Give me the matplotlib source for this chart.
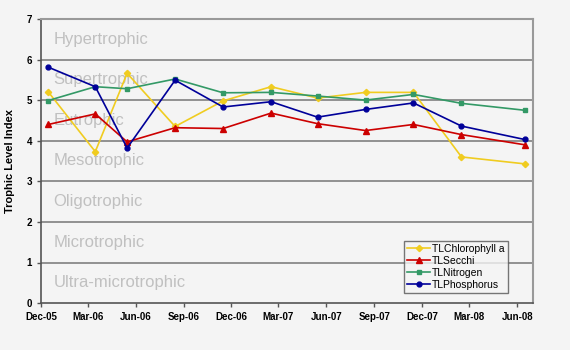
import numpy as np
import matplotlib
matplotlib.use("Agg")
import matplotlib.pyplot as plt
import matplotlib.dates as mdates
from datetime import datetime

plt.rcParams['font.family'] = ['Liberation Sans', 'DejaVu Sans']

# sample dates
dates = [datetime(2005, 12, 15), datetime(2006, 3, 15), datetime(2006, 5, 15),
         datetime(2006, 8, 15), datetime(2006, 11, 15), datetime(2007, 2, 15),
         datetime(2007, 5, 15), datetime(2007, 8, 15), datetime(2007, 11, 15),
         datetime(2008, 2, 15), datetime(2008, 6, 15)]

tl_chla = [5.20, 3.73, 5.66, 4.35, 4.98, 5.33, 5.05, 5.19, 5.19, 3.60, 3.43]
tl_secchi = [4.40, 4.66, 3.97, 4.32, 4.30, 4.68, 4.42, 4.25, 4.40, 4.15, 3.90]
tl_nitrogen = [4.99, 5.33, 5.28, 5.52, 5.18, 5.19, 5.10, 5.00, 5.14, 4.92, 4.75]
tl_phosphorus = [5.81, 5.33, 3.82, 5.49, 4.83, 4.96, 4.58, 4.77, 4.93, 4.36, 4.03]

zones = ["Ultra-microtrophic", "Microtrophic", "Oligotrophic", "Mesotrophic",
         "Eutrophic", "Supertrophic", "Hypertrophic"]

bg = '#f4f4f4'
fig = plt.figure(figsize=(5.7, 3.5), dpi=100, facecolor=bg)
ax = fig.add_axes([0.072, 0.134, 0.863, 0.812], facecolor=bg)

# trophic zone labels
for i, z in enumerate(zones):
    ax.text(0.025, (i + 0.5) / 7, z, transform=ax.transAxes, fontsize=12,
            color='#c0c0c0', va='center', ha='left', zorder=1)

for y in range(1, 7):
    ax.axhline(y, color='#808080', lw=1.2, zorder=1)

ax.plot(dates, tl_chla, color='#f0cc20', marker='D', ms=3.2, lw=1.2,
        label='TLChlorophyll a', zorder=3)
ax.plot(dates, tl_secchi, color='#cc0000', marker='^', ms=4.2, lw=1.2,
        label='TLSecchi', zorder=3)
ax.plot(dates, tl_nitrogen, color='#339966', marker='s', ms=3.5, lw=1.2,
        label='TLNitrogen', zorder=3)
ax.plot(dates, tl_phosphorus, color='#000099', marker='o', ms=3.5, lw=1.2,
        label='TLPhosphorus', zorder=3)

ax.set_ylim(0, 7)
ax.set_xlim(datetime(2005, 12, 1), datetime(2008, 7, 1))
ax.set_yticks(range(0, 8))
ax.xaxis.set_major_locator(mdates.MonthLocator(bymonth=[3, 6, 9, 12]))
ax.xaxis.set_major_formatter(mdates.DateFormatter('%b-%y'))
ax.tick_params(labelsize=7, length=3, color='#555555', width=1)
for lab in ax.get_xticklabels() + ax.get_yticklabels():
    lab.set_fontweight('bold')
ax.set_ylabel('Trophic Level Index', fontsize=8, fontweight='bold', labelpad=8)

for s in ['left', 'bottom']:
    ax.spines[s].set_color('#555555')
    ax.spines[s].set_linewidth(1.2)
for s in ['top', 'right']:
    ax.spines[s].set_color('#999999')
    ax.spines[s].set_linewidth(1.5)

leg = ax.legend(loc='lower left', bbox_to_anchor=(0.738, 0.035), fontsize=7.5,
                frameon=True, fancybox=False, handlelength=2.2,
                borderpad=0.3, labelspacing=0.2, handletextpad=0.2,
                borderaxespad=0)
leg.get_frame().set_edgecolor('#555555')
leg.get_frame().set_facecolor(bg)
leg.get_frame().set_linewidth(1)
leg.set_zorder(5)

fig.savefig('out.png', dpi=100, facecolor=bg)
